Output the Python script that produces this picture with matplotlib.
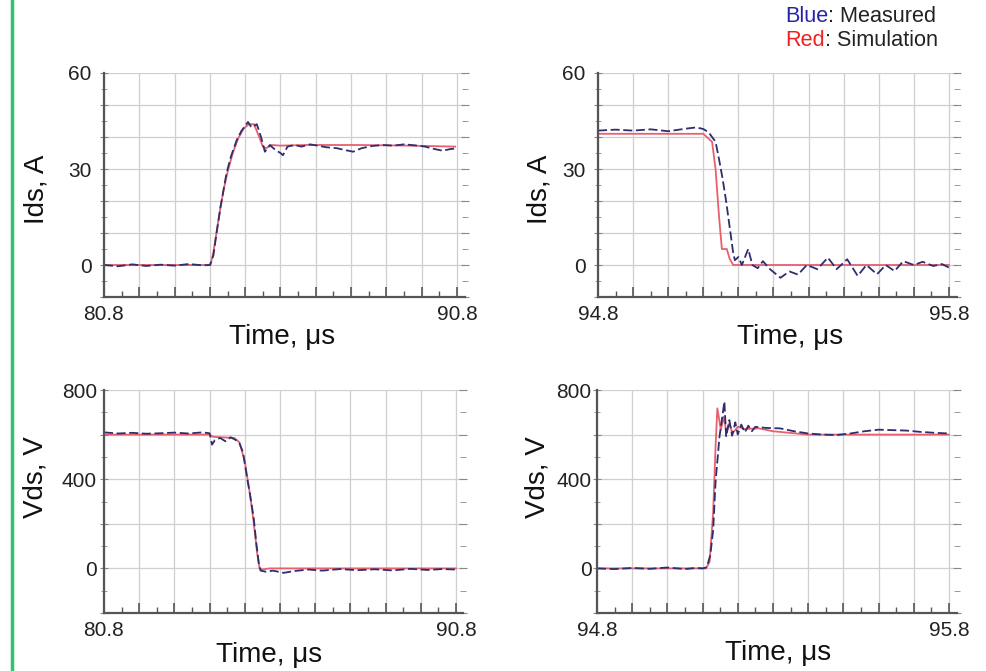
import matplotlib
matplotlib.use("Agg")
import matplotlib.pyplot as plt
from matplotlib.lines import Line2D
from matplotlib.text import Annotation

plt.rcParams['font.family'] = ['Liberation Sans', 'DejaVu Sans']

# ---- turn-on current (80.8 - 90.8 us) ----
t_ion_meas = [80.8, 81.2, 81.6, 82.0, 82.4, 82.8, 83.2, 83.6, 83.8, 83.9, 83.99, 84.1, 84.27, 84.4,
              84.56, 84.7, 84.8, 84.88, 84.98, 85.13, 85.25, 85.36, 85.5, 85.65, 85.8, 85.87, 86.0,
              86.2, 86.4, 86.64, 86.9, 87.1, 87.4, 87.6, 87.86, 88.1, 88.4, 88.7, 89.0, 89.3, 89.6,
              89.9, 90.1, 90.4, 90.6, 90.75]
ids_on_meas = [0, -0.4, 0.2, -0.3, 0.1, -0.2, 0.3, -0.1, 0, 3, 10, 18, 28.6, 34,
               39, 42, 43.5, 44.7, 43, 44, 40, 35.4, 37.5, 36, 35, 34.3, 37,
               37.5, 37, 37.7, 37.2, 36.8, 36.5, 36, 35.4, 36.5, 37.2, 37.5, 37.3, 37.7, 37.4,
               37, 36.4, 35.7, 36.2, 36.4]
t_ion_sim = [80.8, 83.82, 83.9, 84.0, 84.1, 84.2, 84.3, 84.45, 84.6, 84.75, 84.9, 85.05, 85.2,
             85.3, 85.4, 85.55, 85.8, 86.5, 88.0, 89.5, 90.75]
ids_on_sim = [0, 0, 4, 11, 18, 24, 29, 35, 39.5, 42.5, 44, 44, 40,
              37, 36.5, 37.5, 37.3, 37.5, 37.5, 37.3, 37]

# ---- turn-off current (94.8 - 95.8 us) ----
t_ioff_meas = [94.8, 94.85, 94.9, 94.95, 95.0, 95.05, 95.08, 95.1, 95.115, 95.125, 95.135, 95.145,
               95.155, 95.165, 95.175, 95.185, 95.19, 95.2, 95.21, 95.228, 95.24, 95.255, 95.27,
               95.29, 95.32, 95.345, 95.37, 95.395, 95.425, 95.455, 95.48, 95.51, 95.54, 95.565,
               95.595, 95.62, 95.645, 95.67, 95.7, 95.725, 95.755, 95.78, 95.8]
ids_off_meas = [42, 42.3, 42, 42.4, 41.8, 42.6, 43, 42.5, 41.5, 40, 38.5, 33,
                27, 20, 12, 4, 1.5, 2.5, 0, 5, 0, -1, 1.2,
                -1.3, -4, -2, -3, 0, -1.3, 2.3, -1.3, 1.8, -3.4, 0,
                -2.9, 0, -1.9, 1.2, 0, 1, -0.3, 0.3, -0.8]
t_ioff_sim = [94.8, 95.1, 95.125, 95.135, 95.145, 95.153, 95.167, 95.175, 95.185, 95.8]
ids_off_sim = [41, 41, 38.5, 30, 15, 5, 5, 2, 0, 0]

# ---- turn-on voltage fall (80.8 - 90.8 us) ----
t_von_meas = [80.8, 81.2, 81.6, 82.0, 82.4, 82.8, 83.2, 83.6, 83.8, 83.87, 83.95, 84.1, 84.25,
              84.4, 84.55, 84.65, 84.75, 84.85, 84.95, 85.05, 85.13, 85.2, 85.25, 85.4, 85.6,
              85.9, 86.2, 86.6, 87.0, 87.5, 88.0, 88.5, 89.0, 89.5, 90.0, 90.4, 90.8]
vds_on_meas = [610, 605, 608, 604, 606, 609, 605, 610, 606, 555, 575, 585, 570,
               588, 575, 560, 520, 420, 330, 230, 110, 20, -10, -15, -10,
               -20, -12, -5, -10, -3, -8, -4, -9, -2, -7, -3, -5]
t_von_sim = [80.8, 83.8, 83.9, 84.5, 84.65, 84.8, 84.95, 85.05, 85.15, 85.22, 85.3, 85.5, 90.8]
vds_on_sim = [600, 600, 590, 585, 565, 480, 330, 210, 70, 0, -5, 0, 0]

# ---- turn-off voltage rise (94.8 - 95.8 us) ----
t_voff_meas = [94.8, 94.85, 94.9, 94.95, 95.0, 95.05, 95.08, 95.1, 95.112, 95.122, 95.13, 95.137,
               95.148, 95.162, 95.167, 95.176, 95.184, 95.193, 95.2, 95.21, 95.22, 95.23, 95.24,
               95.25, 95.28, 95.32, 95.36, 95.4, 95.44, 95.48, 95.52, 95.56, 95.6, 95.64, 95.68,
               95.72, 95.76, 95.8]
vds_off_meas = [0, -3, 2, -2, 4, -3, 2, 0, 5, 60, 170, 390,
                590, 748, 590, 665, 595, 655, 600, 645, 610, 640, 615,
                635, 630, 628, 615, 605, 600, 598, 605, 615, 622, 620, 618,
                612, 608, 605]
t_voff_sim = [94.8, 95.11, 95.12, 95.13, 95.137, 95.142, 95.152, 95.16, 95.168, 95.176, 95.185,
              95.2, 95.22, 95.26, 95.3, 95.4, 95.8]
vds_off_sim = [0, 0, 30, 250, 550, 718, 620, 680, 610, 650, 605,
               635, 625, 628, 615, 600, 600]

meas_color = '#2e2e6e'
sim_color = '#e8606e'
grid_color = '#cfcfcf'
spine_color = '#555555'

fig = plt.figure(figsize=(9.86, 6.71), dpi=100)


def box(l, t, r, b):
    return [l / 986, 1 - b / 671, (r - l) / 986, (b - t) / 671]


def setup(ax, x0, span, yticks, ylabels, yminor, ylim, xright):
    ax.set_xlim(x0, xright)
    ax.set_ylim(*ylim)
    xt = [x0 + span * i / 10 for i in range(11)]
    ax.set_xticks(xt)
    ax.set_xticklabels([f'{x0:.1f}'] + [''] * 9 + [f'{x0 + span:.1f}'])
    ax.set_xticks([x0 + span * (i + 0.5) / 10 for i in range(10)], minor=True)
    ax.set_yticks(yticks)
    ax.set_yticklabels(ylabels)
    ax.set_yticks(yminor, minor=True)
    ax.grid(True, which='major', color=grid_color, lw=0.9)
    for s in ['top', 'right']:
        ax.spines[s].set_visible(False)
    for s in ['left', 'bottom']:
        ax.spines[s].set_color(spine_color)
        ax.spines[s].set_linewidth(1.6)
    ax.tick_params(axis='x', which='both', direction='in', top=False, colors=spine_color,
                   labelcolor='#222222', labelsize=15, pad=6)
    ax.tick_params(axis='x', which='major', length=7, width=1.2)
    ax.tick_params(axis='x', which='minor', length=4, width=1)
    ax.tick_params(axis='y', which='both', direction='inout', left=True, right=True,
                   colors='#888888', labelcolor='#222222', labelsize=15, pad=3)
    ax.tick_params(axis='y', which='major', length=6)
    ax.tick_params(axis='y', which='minor', length=5)
    ax.set_facecolor('none')


def labels(ax, ylab, yx, yy, tx, ty):
    ax.text(yx, yy, ylab, transform=ax.transAxes, rotation=90, ha='center', va='center',
            fontsize=20, color='#111111')
    ax.text(tx, ty, 'Time, μs', transform=ax.transAxes, ha='center', va='center',
            fontsize=20, color='#111111')


ids_ticks = [-10, 0, 10, 20, 30, 40, 50, 60]
ids_lbls = ['', '0', '', '', '30', '', '', '60']
ids_minor = [-5, 5, 15, 25, 35, 45, 55]
vds_ticks = [-200, 0, 200, 400, 600, 800]
vds_lbls = ['', '0', '', '400', '', '800']
vds_minor = [-100, 100, 300, 500, 700]

ax1 = fig.add_axes(box(104, 73, 465, 297))
setup(ax1, 80.8, 10, ids_ticks, ids_lbls, ids_minor, (-10, 60), 91.03)
ax1.plot(t_ion_sim, ids_on_sim, color=sim_color, lw=1.3)
ax1.plot(t_ion_meas, ids_on_meas, color=meas_color, lw=1.3, ls=(0, (5, 2)))
labels(ax1, 'Ids, A', -0.186, 0.48, 0.493, -0.179)
ax1.tick_params(axis='y', pad=6)

ax2 = fig.add_axes(box(598, 73, 957, 297))
setup(ax2, 94.8, 1, ids_ticks, ids_lbls, ids_minor, (-10, 60), 95.823)
ax2.plot(t_ioff_sim, ids_off_sim, color=sim_color, lw=1.3)
ax2.plot(t_ioff_meas, ids_off_meas, color=meas_color, lw=1.3, ls=(0, (5, 2)))
labels(ax2, 'Ids, A', -0.162, 0.48, 0.535, -0.179)
ax2.tick_params(axis='y', pad=6)

ax3 = fig.add_axes(box(104, 390, 463, 613))
setup(ax3, 80.8, 10, vds_ticks, vds_lbls, vds_minor, (-200, 800), 91.0)
ax3.plot(t_von_sim, vds_on_sim, color=sim_color, lw=1.3)
ax3.plot(t_von_meas, vds_on_meas, color=meas_color, lw=1.3, ls=(0, (5, 2)))
labels(ax3, 'Vds, V', -0.192, 0.61, 0.46, -0.188)
ax3.tick_params(axis='y', pad=2)

ax4 = fig.add_axes(box(597, 390, 957, 613))
setup(ax4, 94.8, 1, vds_ticks, vds_lbls, vds_minor, (-200, 800), 95.823)
ax4.plot(t_voff_sim, vds_off_sim, color=sim_color, lw=1.3)
ax4.plot(t_voff_meas, vds_off_meas, color=meas_color, lw=1.3, ls=(0, (5, 2)))
labels(ax4, 'Vds, V', -0.164, 0.61, 0.503, -0.179)
ax4.tick_params(axis='y', pad=1)

# legend text in the top right corner
b = fig.text(785 / 986, 1 - 16 / 671, 'Blue', color='#2424a8', fontsize=15.6, va='center')
fig.add_artist(Annotation(': Measured', xy=(1, 0.5), xycoords=b, va='center',
                          fontsize=15.6, color='#222222'))
r = fig.text(785 / 986, 1 - 41 / 671, 'Red', color='#f02020', fontsize=15.6, va='center')
fig.add_artist(Annotation(': Simulation', xy=(1, 0.5), xycoords=r, va='center',
                          fontsize=15.6, color='#222222'))

# green bar at the left edge
fig.add_artist(Line2D([12 / 986, 12 / 986], [0, 1], color='#2fc46b', lw=2.5,
                      transform=fig.transFigure))

fig.savefig('out.png', dpi=100)
